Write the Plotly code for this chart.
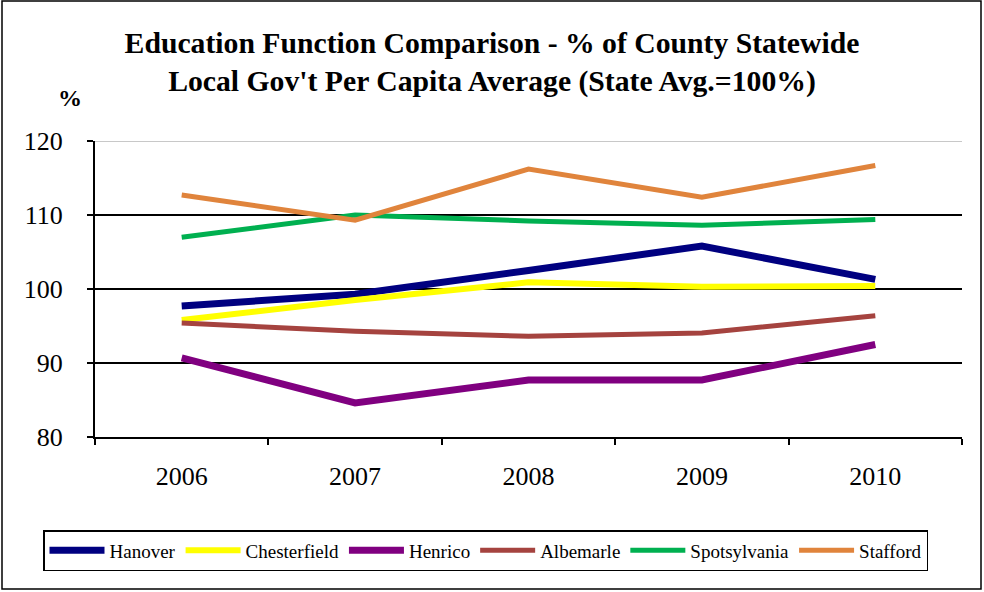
"""Education function comparison - % of county statewide per capita average."""

import plotly.graph_objects as go

years = ["2006", "2007", "2008", "2009", "2010"]
hanover = [97.7, 99.3, 102.5, 105.8, 101.3]
chesterfield = [95.8, 98.5, 100.9, 100.3, 100.4]
henrico = [90.7, 84.6, 87.7, 87.7, 92.5]
albemarle = [95.4, 94.3, 93.6, 94.05, 96.4]
spotsylvania = [107.0, 110.0, 109.2, 108.6, 109.4]
stafford = [112.7, 109.3, 116.2, 112.4, 116.7]

series = [
    ("Hanover", hanover, "#000080", 7),
    ("Chesterfield", chesterfield, "#FFFF00", 6),
    ("Henrico", henrico, "#800080", 7),
    ("Albemarle", albemarle, "#A5433F", 5),
    ("Spotsylvania", spotsylvania, "#00B050", 5),
    ("Stafford", stafford, "#E0843C", 5),
]

serif = "Liberation Serif"

fig = go.Figure()
for name, vals, color, width in series:
    fig.add_trace(go.Scatter(
        x=years, y=vals, name=name, mode="lines",
        line={"color": color, "width": width},
    ))

fig.update_layout(
    width=984, height=592,
    plot_bgcolor="white", paper_bgcolor="white",
    margin={"l": 95, "r": 22, "t": 141, "b": 155, "autoexpand": False},
    font={"family": serif, "color": "black"},
    title={
        "text": "<b>Education Function Comparison - % of County Statewide<br>"
                "Local Gov't Per Capita Average (State Avg.=100%)</b>",
        "x": 0.5, "xanchor": "center", "y": 0.911, "yanchor": "top",
        "font": {"size": 29.7, "family": serif},
    },
    showlegend=True,
    legend={
        "orientation": "h",
        "x": (43 - 95) / 867, "xanchor": "left",
        "y": -(530 - 437) / 296, "yanchor": "top",
        "bordercolor": "black", "borderwidth": 1.5, "bgcolor": "white",
        "font": {"size": 19, "family": serif},
        "itemwidth": 55,
    },
)

fig.update_xaxes(
    type="category", range=[-0.5, 4.5], automargin=False,
    showline=True, linecolor="black", linewidth=2,
    ticks="outside", ticklen=6, tickcolor="black", tickwidth=1.5,
    tickson="boundaries", showgrid=False,
    tickfont={"size": 26}, ticklabelstandoff=15,
)
fig.update_yaxes(
    range=[80, 120], dtick=10, automargin=False,
    showline=True, linecolor="black", linewidth=2,
    ticks="outside", ticklen=6, tickcolor="black", tickwidth=1.5,
    showgrid=True, gridcolor="black", gridwidth=2,
    tickfont={"size": 26}, ticklabelstandoff=19,
    zeroline=False,
)

# top grid line renders light grey in the original
fig.add_hline(y=120, line={"color": "#c8c8c8", "width": 2}, layer="below")

fig.add_annotation(
    text="<b>%</b>", xref="paper", yref="paper",
    x=(70 - 95) / 867, y=1 + (141 - 98) / 296,
    xanchor="center", yanchor="middle",
    showarrow=False, font={"size": 24, "family": serif},
)

# chart area border
fig.add_shape(
    type="rect", xref="paper", yref="paper",
    x0=(2 - 95) / 867, x1=(981 - 95) / 867,
    y0=-(589 - 437) / 296, y1=1 + (141 - 1) / 296,
    line={"color": "black", "width": 1.5},
)

fig.write_html(
    "out.html",
    config={"displayModeBar": False},
    post_script="document.body.style.margin = '0';",
)
